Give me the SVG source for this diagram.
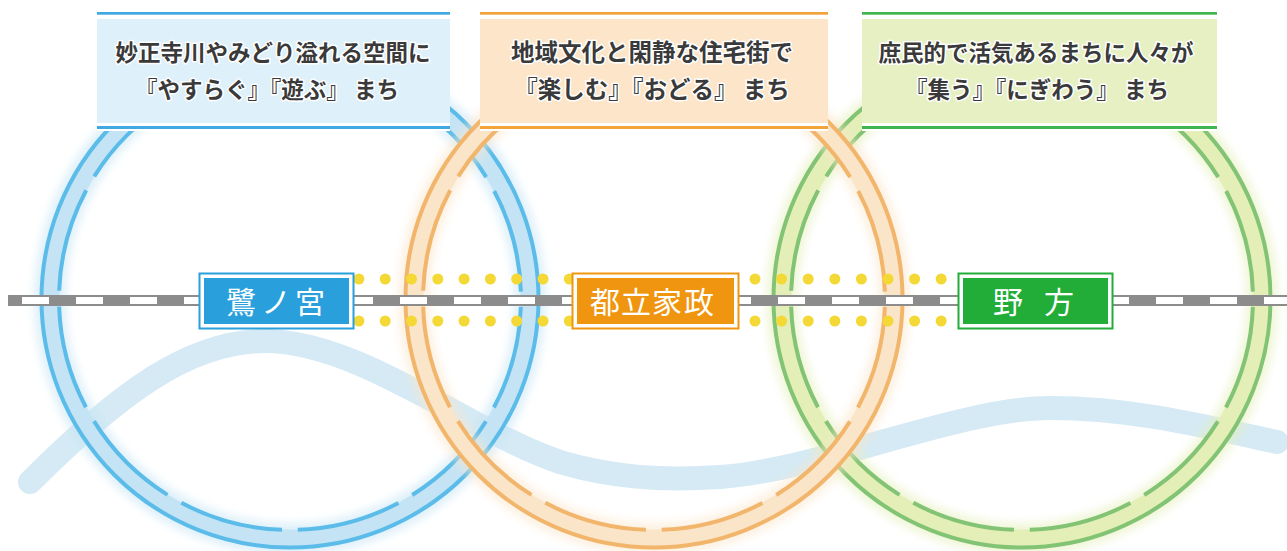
<svg xmlns="http://www.w3.org/2000/svg" width="1287" height="551" viewBox="0 0 1287 551">
<style>
.glow{fill:none;stroke-width:32;opacity:.55}
.band{fill:none;stroke-width:19}
.outer{fill:none;stroke-width:4}
.inner{fill:none;stroke-width:4;stroke-dasharray:104.95 16;stroke-dashoffset:112.95}
.b .glow,.b .band{stroke:#c4e4f5}
.b .outer,.b .inner{stroke:#5bbce9}
.o .glow,.o .band{stroke:#fbe5c9}
.o .outer,.o .inner{stroke:#f2b56c}
.g .glow,.g .band{stroke:#e3efb7}
.g .outer,.g .inner{stroke:#82c474}
.dot{fill:#f4d936}
.lbl{font-family:"Noto Sans CJK JP","Noto Sans",sans-serif;font-weight:700;fill:#3a3a3a;stroke:#ffffff;stroke-width:3;paint-order:stroke;stroke-linejoin:round;text-anchor:middle}
.stn{font-family:"Noto Sans CJK JP","Noto Sans",sans-serif;font-size:30px;fill:#ffffff}
</style>
<defs>
<filter id="blur" x="-20%" y="-20%" width="140%" height="140%"><feGaussianBlur stdDeviation="4"/></filter>
</defs>
<rect width="1287" height="551" fill="#ffffff"/>
<g id="river">
<path d="M30,482 C120,392 190,341 265,341 C360,341 470,432 560,462 C610,477 660,481 720,477 C820,470 960,408 1050,408 C1130,408 1200,425 1277,442" fill="none" stroke="#d5eaf4" stroke-width="24" stroke-linecap="round"/>
</g>
<g id="ring-saginomiya" class="b">
<circle class="glow" cx="290" cy="299" r="240" filter="url(#blur)"/>
<circle class="band" cx="290" cy="299" r="240"/>
<circle class="outer" cx="290" cy="299" r="248.5"/>
<circle class="inner" cx="290" cy="299" r="231"/>
</g>
<g id="ring-nogata" class="g">
<circle class="glow" cx="1022" cy="299" r="240" filter="url(#blur)"/>
<circle class="band" cx="1022" cy="299" r="240"/>
<circle class="outer" cx="1022" cy="299" r="248.5"/>
<circle class="inner" cx="1022" cy="299" r="231"/>
</g>
<g id="ring-toritsukasei" class="o">
<circle class="glow" cx="654" cy="299" r="240" filter="url(#blur)"/>
<circle class="band" cx="654" cy="299" r="240"/>
<circle class="outer" cx="654" cy="299" r="248.5"/>
<circle class="inner" cx="654" cy="299" r="231"/>
</g>
<g id="connectors">
<rect x="8" y="295" width="1279" height="11" fill="#8c8c8c"/>
<line x1="8" y1="300.5" x2="1287" y2="300.5" stroke="#ffffff" stroke-width="7" stroke-dasharray="27 27" stroke-dashoffset="40"/>
<g id="dots-left">
<circle class="dot" cx="280" cy="279" r="5.5"/><circle class="dot" cx="306.3" cy="279" r="5.5"/><circle class="dot" cx="332.6" cy="279" r="5.5"/><circle class="dot" cx="358.9" cy="279" r="5.5"/><circle class="dot" cx="385.2" cy="279" r="5.5"/><circle class="dot" cx="411.5" cy="279" r="5.5"/><circle class="dot" cx="437.8" cy="279" r="5.5"/><circle class="dot" cx="464.1" cy="279" r="5.5"/><circle class="dot" cx="490.4" cy="279" r="5.5"/><circle class="dot" cx="516.7" cy="279" r="5.5"/><circle class="dot" cx="543" cy="279" r="5.5"/><circle class="dot" cx="569.3" cy="279" r="5.5"/>
<circle class="dot" cx="280" cy="321" r="5.5"/><circle class="dot" cx="306.3" cy="321" r="5.5"/><circle class="dot" cx="332.6" cy="321" r="5.5"/><circle class="dot" cx="358.9" cy="321" r="5.5"/><circle class="dot" cx="385.2" cy="321" r="5.5"/><circle class="dot" cx="411.5" cy="321" r="5.5"/><circle class="dot" cx="437.8" cy="321" r="5.5"/><circle class="dot" cx="464.1" cy="321" r="5.5"/><circle class="dot" cx="490.4" cy="321" r="5.5"/><circle class="dot" cx="516.7" cy="321" r="5.5"/><circle class="dot" cx="543" cy="321" r="5.5"/><circle class="dot" cx="569.3" cy="321" r="5.5"/>
</g>
<g id="dots-right">
<circle class="dot" cx="755" cy="279" r="5.5"/><circle class="dot" cx="781.6" cy="279" r="5.5"/><circle class="dot" cx="808.2" cy="279" r="5.5"/><circle class="dot" cx="834.8" cy="279" r="5.5"/><circle class="dot" cx="861.4" cy="279" r="5.5"/><circle class="dot" cx="888" cy="279" r="5.5"/><circle class="dot" cx="914.6" cy="279" r="5.5"/><circle class="dot" cx="941.2" cy="279" r="5.5"/><circle class="dot" cx="967.8" cy="279" r="5.5"/><circle class="dot" cx="994.4" cy="279" r="5.5"/><circle class="dot" cx="1021" cy="279" r="5.5"/><circle class="dot" cx="1047.6" cy="279" r="5.5"/>
<circle class="dot" cx="755" cy="321" r="5.5"/><circle class="dot" cx="781.6" cy="321" r="5.5"/><circle class="dot" cx="808.2" cy="321" r="5.5"/><circle class="dot" cx="834.8" cy="321" r="5.5"/><circle class="dot" cx="861.4" cy="321" r="5.5"/><circle class="dot" cx="888" cy="321" r="5.5"/><circle class="dot" cx="914.6" cy="321" r="5.5"/><circle class="dot" cx="941.2" cy="321" r="5.5"/><circle class="dot" cx="967.8" cy="321" r="5.5"/><circle class="dot" cx="994.4" cy="321" r="5.5"/><circle class="dot" cx="1021" cy="321" r="5.5"/><circle class="dot" cx="1047.6" cy="321" r="5.5"/>
</g>
</g>
<g id="station-saginomiya">
<rect x="199.5" y="273.5" width="154" height="55" fill="#ffffff" stroke="#29a0dc" stroke-width="2"/>
<rect x="204" y="278" width="145" height="46" fill="#29a0dc"/>
<text class="stn" x="226 261 295" y="313">鷺ノ宮</text>
</g>
<g id="station-toritsukasei">
<rect x="572.5" y="273.5" width="166" height="55" fill="#ffffff" stroke="#f0950f" stroke-width="2"/>
<rect x="577" y="278" width="157" height="46" fill="#f0950f"/>
<text class="stn" x="590 621 652 684" y="313">都立家政</text>
</g>
<g id="station-nogata">
<rect x="958.5" y="273.5" width="154" height="55" fill="#ffffff" stroke="#22ac38" stroke-width="2"/>
<rect x="963" y="278" width="145" height="46" fill="#22ac38"/>
<text class="stn" x="993 1044" y="313">野方</text>
</g>
<g id="label-saginomiya">
<rect x="97" y="10" width="353" height="121" fill="#ffffff"/>
<rect x="97" y="12" width="353" height="2.7" fill="#40a9e2"/>
<rect x="97" y="19" width="353" height="104" fill="#def0f9"/>
<rect x="97" y="126" width="353" height="3" fill="#40a9e2"/>
<text class="lbl" x="273" y="61" font-size="22.5">妙正寺川やみどり溢れる空間に</text>
<text class="lbl" x="267" y="98" font-size="22.5">『やすらぐ』『遊ぶ』 まち</text>
</g>
<g id="label-toritsukasei">
<rect x="480" y="10" width="348" height="121" fill="#ffffff"/>
<rect x="480" y="12" width="348" height="2.7" fill="#f0a43a"/>
<rect x="480" y="19" width="348" height="104" fill="#fce5c8"/>
<rect x="480" y="126" width="348" height="3" fill="#f0a43a"/>
<text class="lbl" x="652" y="61" font-size="23.5">地域文化と閑静な住宅街で</text>
<text class="lbl" x="652" y="98" font-size="23.5">『楽しむ』『おどる』 まち</text>
</g>
<g id="label-nogata">
<rect x="862" y="10" width="355" height="121" fill="#ffffff"/>
<rect x="862" y="12" width="355" height="2.7" fill="#3fb54f"/>
<rect x="862" y="19" width="355" height="104" fill="#e6f0c3"/>
<rect x="862" y="126" width="355" height="3" fill="#3fb54f"/>
<text class="lbl" x="1036" y="61" font-size="22.5">庶民的で活気あるまちに人々が</text>
<text class="lbl" x="1037" y="98" font-size="22.5">『集う』『にぎわう』 まち</text>
</g>
</svg>
